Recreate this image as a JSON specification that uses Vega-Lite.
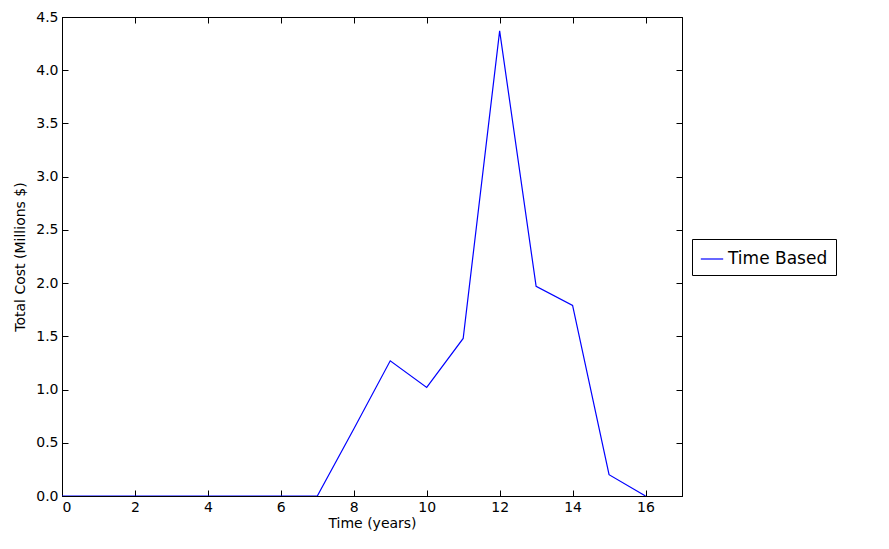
{
  "$schema": "https://vega.github.io/schema/vega-lite/v6.json",
  "autosize": {"type": "none"},
  "padding": {"left": 62, "top": 17, "right": 207, "bottom": 53},
  "width": 620,
  "height": 479,
  "data": {
    "values": [
      {"t": 0, "cost": 0, "series": "Time Based"},
      {"t": 1, "cost": 0, "series": "Time Based"},
      {"t": 2, "cost": 0, "series": "Time Based"},
      {"t": 3, "cost": 0, "series": "Time Based"},
      {"t": 4, "cost": 0, "series": "Time Based"},
      {"t": 5, "cost": 0, "series": "Time Based"},
      {"t": 6, "cost": 0, "series": "Time Based"},
      {"t": 7, "cost": 0, "series": "Time Based"},
      {"t": 8, "cost": 0.63, "series": "Time Based"},
      {"t": 9, "cost": 1.27, "series": "Time Based"},
      {"t": 10, "cost": 1.02, "series": "Time Based"},
      {"t": 11, "cost": 1.48, "series": "Time Based"},
      {"t": 12, "cost": 4.37, "series": "Time Based"},
      {"t": 13, "cost": 1.97, "series": "Time Based"},
      {"t": 14, "cost": 1.79, "series": "Time Based"},
      {"t": 15, "cost": 0.2, "series": "Time Based"},
      {"t": 16, "cost": 0.0, "series": "Time Based"}
    ]
  },
  "config": {
    "font": "DejaVu Sans",
    "view": {"stroke": "black", "strokeWidth": 1},
    "axis": {
      "grid": false,
      "domain": true,
      "domainColor": "black",
      "tickSize": -6,
      "tickColor": "black",
      "labelColor": "black",
      "labelFontSize": 14,
      "titleFontSize": 14,
      "titleFontWeight": "normal",
      "titleColor": "black",
      "labelPadding": 10
    }
  },
  "layer": [
    {
      "mark": {"type": "line", "color": "blue", "strokeWidth": 1.2, "clip": true},
      "encoding": {
        "x": {
          "field": "t", "type": "quantitative",
          "scale": {"domain": [0, 17], "nice": false, "zero": false},
          "axis": {"title": "Time (years)", "values": [0, 2, 4, 6, 8, 10, 12, 14, 16], "titlePadding": 2}
        },
        "y": {
          "field": "cost", "type": "quantitative",
          "scale": {"domain": [0, 4.5], "nice": false},
          "axis": {"title": "Total Cost (Millions $)", "values": [0, 0.5, 1, 1.5, 2, 2.5, 3, 3.5, 4, 4.5], "format": ".1f", "titlePadding": 8}
        },
        "color": {
          "field": "series", "type": "nominal",
          "scale": {"range": ["blue"]},
          "legend": {
            "title": null, "orient": "none", "legendX": 630, "legendY": 222,
            "symbolType": "stroke", "symbolSize": 500, "symbolStrokeWidth": 1.2,
            "labelFontSize": 17, "labelColor": "black",
            "strokeColor": "black", "padding": 8, "fillColor": "white"
          }
        }
      }
    },
    {
      "mark": {"type": "line", "opacity": 0},
      "encoding": {
        "x": {
          "field": "t", "type": "quantitative",
          "scale": {"domain": [0, 17], "nice": false, "zero": false},
          "axis": {"orient": "top", "labels": false, "title": null, "values": [0, 2, 4, 6, 8, 10, 12, 14, 16]}
        },
        "y": {
          "field": "cost", "type": "quantitative",
          "scale": {"domain": [0, 4.5], "nice": false},
          "axis": {"orient": "right", "labels": false, "title": null, "values": [0, 0.5, 1, 1.5, 2, 2.5, 3, 3.5, 4, 4.5]}
        }
      }
    }
  ],
  "resolve": {"axis": {"x": "independent", "y": "independent"}}
}
